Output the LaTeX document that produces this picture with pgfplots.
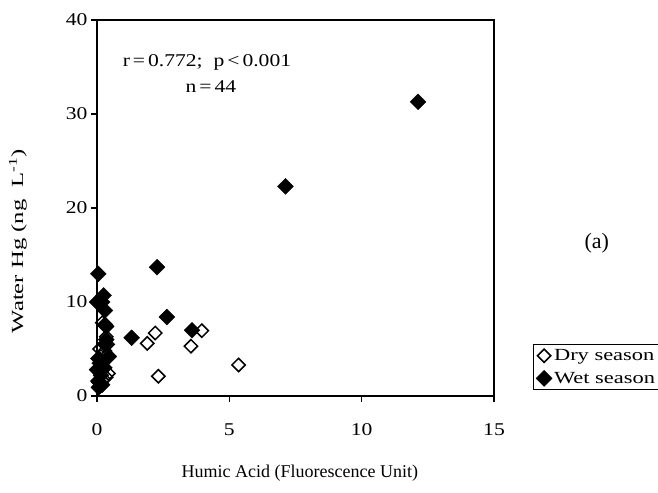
\documentclass[border=0pt]{standalone}
\usepackage{pgfplots}
\pgfplotsset{compat=1.18}
\usepackage{fontspec}
\setmainfont{Liberation Serif}
\newfontfamily\wide{Liberation Serif}[FakeStretch=1.2]
\newfontfamily\lwide{Liberation Serif}[FakeStretch=1.32]
\newfontfamily\ywide{Liberation Serif}[FakeStretch=1.45]
\begin{document}
\begin{tikzpicture}
\begin{axis}[
  scale only axis, width=397pt, height=376pt,
  xmin=0, xmax=15, ymin=0, ymax=40,
  xtick={0,5,10,15}, ytick={0,10,20,30,40},
  tick align=outside, xtick pos=left, ytick pos=left,
  major tick length=6pt,
  axis line style={line width=1.8pt},
  every tick/.style={black, line width=1.5pt},
  /pgf/number format/assume math mode=true,
  ticklabel style={font=\fontsize{18}{21}\wide},
  xticklabel style={yshift=-18pt},
  clip=false,
  legend style={at={(rel axis cs:1.098,0.138)}, anchor=north west, draw=black,
    line width=0.6pt, font=\fontsize{17}{20}\lwide, row sep=6pt, inner sep=3pt},
  legend cell align=left,
]
\addplot[only marks, mark=square, mark size=4.7pt, mark options={rotate=45, draw=black, fill=white, line width=1.5pt}] coordinates {
(2.2,6.7) (1.9,5.6) (2.32,2.1) (3.55,5.3) (3.96,6.95) (5.35,3.3) (0.43,2.4)
(0.3,4.8) (0.4,5.5) (0.35,6.3) (0.2,3.5) (0.1,2.5) (0.25,1.8) (0.05,1.5)
(0.15,4.2) (0.3,3.0) (0.1,5.0) (0.2,7.8) (0.05,0.9) (0.35,2.0)
};
\addlegendentry{Dry season}
\addplot[only marks, mark=square*, mark size=5.6pt, mark options={rotate=45, draw=black, fill=black}] coordinates {
(12.13,31.3) (7.12,22.3) (2.27,13.7) (2.64,8.4) (1.31,6.2) (3.59,7.0)
(0.05,13.0) (0.25,10.7) (0.0,10.0) (0.2,10.0) (0.3,9.1) (0.35,7.4) (0.3,7.6)
(0.05,4.0) (0.1,3.5) (0.0,2.8) (0.15,2.2) (0.05,1.6) (0.2,1.2) (0.1,1.0)
(0.3,5.5) (0.45,4.2) (0.25,3.0) (0.35,6.0)
};
\addlegendentry{Wet season}
\node[font=\fontsize{18}{20}\wide] at (rel axis cs:0.277,0.888) {r\,=\,0.772;\ \ p\,<\,0.001};
\node[font=\fontsize{18}{20}\wide] at (rel axis cs:0.287,0.824) {n\,=\,44};
\node[font=\fontsize{22}{24}\selectfont] at (rel axis cs:1.259,0.407) {(a)};
\node[font=\fontsize{18}{22}\selectfont] at (rel axis cs:0.511,-0.205) {Humic Acid (Fluorescence Unit)};
\node[rotate=90, font=\fontsize{17}{20}\ywide] at (rel axis cs:-0.199,0.412) {Water Hg (ng\ \ L\textsuperscript{-1})};
\coordinate (bl) at (rel axis cs:-0.2443,-0.2553);
\coordinate (tr) at (rel axis cs:1.4131,1.0532);
\end{axis}
\pgfresetboundingbox
\path[use as bounding box] (bl) rectangle (tr);
\end{tikzpicture}
\end{document}
